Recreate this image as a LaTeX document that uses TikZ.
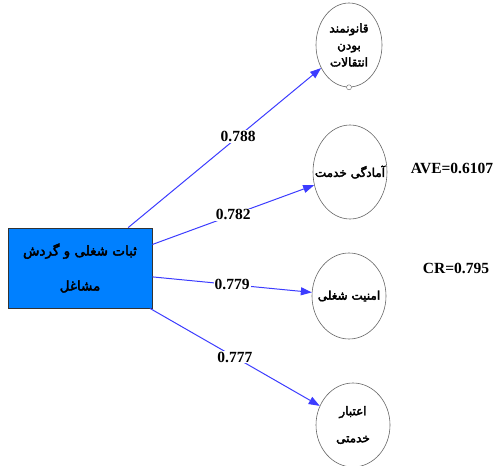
\documentclass[tikz,border=0pt]{standalone}
\usepackage{fontspec}
\setmainfont{Liberation Serif}
\newfontfamily\arabicfont[Script=Arabic,FakeBold=3]{DejaVu Sans}
\TeXXeTstate=1
\usetikzlibrary{arrows.meta}
\usetikzlibrary{shapes.geometric}
\newcommand{\fa}[1]{{\arabicfont\beginR #1\endR}}
\newcommand{\fz}[1]{\makebox[0pt]{\fa{#1}}}
\definecolor{boxblue}{RGB}{0,128,255}
\definecolor{lineblue}{RGB}{60,60,255}

\begin{document}
\begin{tikzpicture}[x=1pt,y=-1pt]
\tikzstyle{latent} = [ellipse, draw = black!60, semithick, fill = white, align = center, inner sep = 0pt, minimum width = 74pt, font = \fontsize{12}{17}\selectfont]
\tikzstyle{construct} = [rectangle, draw = black!80, thick, fill = boxblue, align = center, minimum width = 144pt, minimum height = 80pt, font = \fontsize{13.5}{35}\selectfont]
\tikzstyle{edge} = [-{Triangle[length=11pt,width=8pt]}, lineblue, line width = 1pt]
\tikzstyle{loading} = [fill = white, text = black, inner sep = 1pt, font = \bfseries\fontsize{15.5}{17}\selectfont]
\tikzstyle{fit} = [font = \bfseries\fontsize{15.5}{18}\selectfont]
\useasboundingbox (0,0) rectangle (497,465);
\node[construct] (job) at (80,268) {\fa{ثبات شغلی و گردش}\\\fa{مشاغل}};
\node[latent, minimum width = 66pt, minimum height = 84pt] (legal) at (349,45) {\fz{قانونمند}\\\fz{بودن}\\\fz{انتقالات}};
\node[latent, minimum height = 94pt, font = \fontsize{12}{17}\selectfont] (ready) at (350,172) {\fz{آمادگی خدمت}};
\node[latent, minimum height = 86pt, font = \fontsize{12}{17}\selectfont] (secure) at (349,296) {\fz{امنیت شغلی}};
\node[latent, minimum height = 84pt, font = \fontsize{12}{27}\selectfont] (credit) at (353,425) {\fz{اعتبار}\\\fz{خدمتی}};
\node[circle, draw = black!60, fill = white, inner sep = 0pt, minimum size = 5pt] (dot) at (legal.south) {};
\node[fit] (ave) at (452,168) {AVE=0.6107};
\node[fit] (cr) at (456,268) {CR=0.795};
\draw[edge] (job.40) -- node[loading, pos = 0.57] {0.788} (legal);
\draw[edge] (job.18) -- node[loading] {0.782} (ready);
\draw[edge] (job.-7) -- node[loading] {0.779} (secure);
\draw[edge] (job.-30) -- node[loading] {0.777} (credit);
\end{tikzpicture}
\end{document}
